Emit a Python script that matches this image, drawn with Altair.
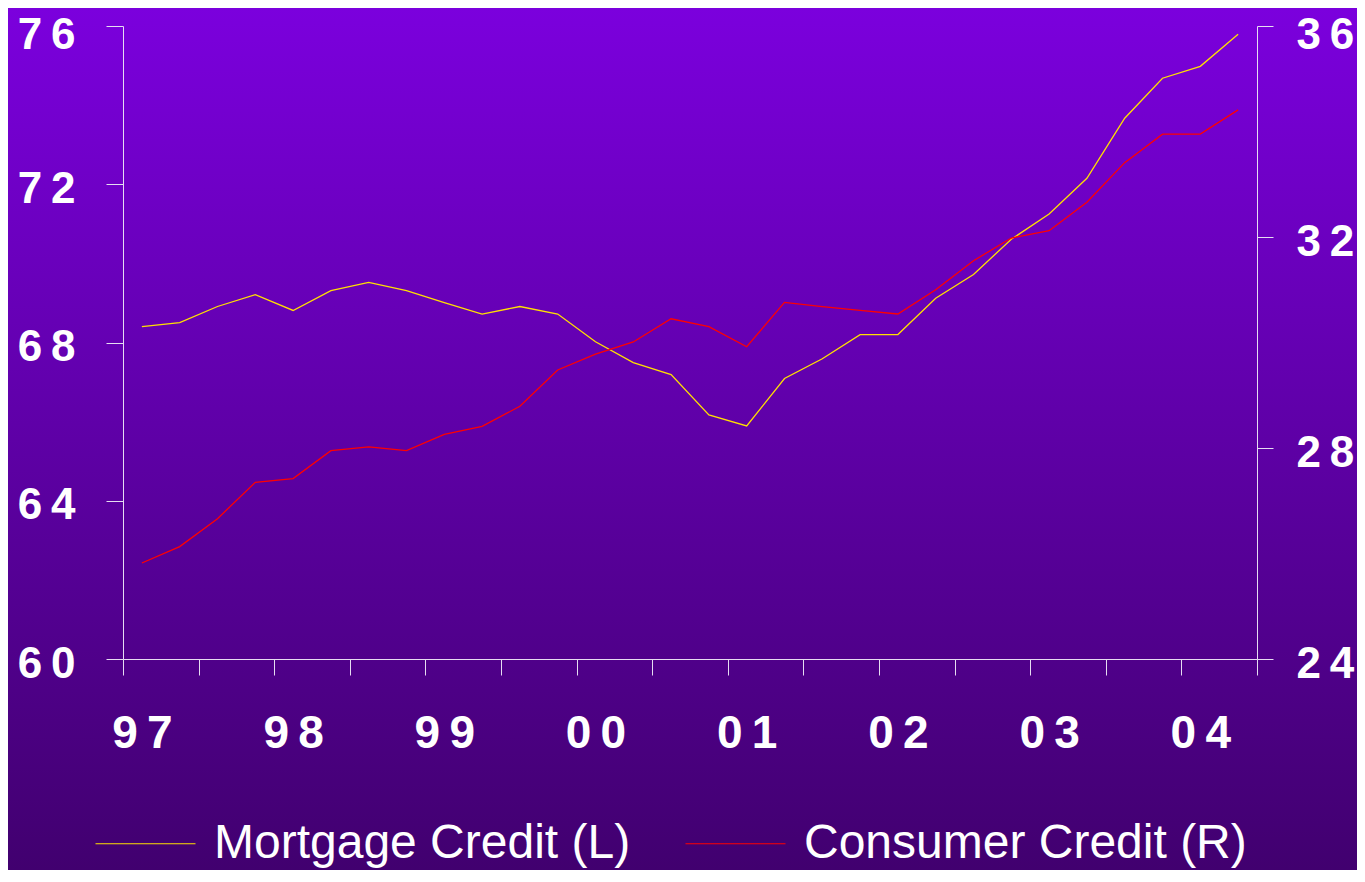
import altair as alt
import pandas as pd

# ---- data (quarterly, 1997Q1 .. 2004Q2) ----
quarters = [f"{y}Q{q}" for y in ["97", "98", "99", "00", "01", "02", "03", "04"] for q in range(1, 5)][:30]
mortgage = [68.40, 68.50, 68.91, 69.21, 68.81, 69.31, 69.52, 69.31, 69.01, 68.72,
            68.91, 68.72, 68.02, 67.49, 67.19, 66.17, 65.89, 67.09, 67.59, 68.20,
            68.20, 69.12, 69.72, 70.61, 71.25, 72.15, 73.67, 74.68, 74.98, 75.79]
consumer = [25.82, 26.13, 26.66, 27.35, 27.42, 27.95, 28.02, 27.95, 28.26, 28.41,
            28.79, 29.48, 29.78, 30.01, 30.45, 30.30, 29.92, 30.76, 30.68, 30.61,
            30.54, 31.00, 31.55, 31.98, 32.12, 32.66, 33.41, 33.95, 33.95, 34.41]
series_names = ["Mortgage Credit (L)", "Consumer Credit (R)"]
year_labels = ["97", "98", "99", "00", "01", "02", "03", "04"]
left_ticks = [60, 64, 68, 72, 76]
right_ticks = [24, 28, 32, 36]

rows = []
for i, q in enumerate(quarters):
    rows.append({"quarter": q, "pos": i + 0.5, "series": series_names[0], "value": mortgage[i]})
    rows.append({"quarter": q, "pos": i + 0.5, "series": series_names[1], "value": consumer[i]})
df = pd.DataFrame(rows)

# ---- styling ----
W, H = 1134, 633
PAD = {"left": 115, "top": 18, "right": 100, "bottom": 211}
FONT = "Liberation Sans"
AXIS_COL = "#E6DDF2"
THIN = "\u2009"
YELLOW = "#FFE000"
RED = "#FF0000"

n = len(quarters)
tick_vals = list(range(0, n + 1, 2))
label_vals = [4 * k + 0.5 for k in range(len(year_labels))]
axis_vals = sorted(set(tick_vals) | set(label_vals))
lab_expr = " : ".join(
    f"datum.value == {v} ? '{lab[0]}{THIN}{lab[1]}'" for v, lab in zip(label_vals, year_labels)
) + " : ''"

x_enc = alt.X(
    "pos:Q",
    scale=alt.Scale(domain=[0, n], nice=False, zero=False),
    axis=alt.Axis(
        values=axis_vals, labelExpr=lab_expr, title=None, grid=False,
        tickSize=16, tickColor=AXIS_COL, domainColor=AXIS_COL, tickWidth=1, domainWidth=1,
        tickOpacity={"condition": {"test": "datum.value % 2 != 0", "value": 0}, "value": 1},
        labelFont=FONT, labelFontSize=46, labelFontWeight="bold", labelColor="white",
        labelPadding=36, labelOverlap=False, labelFlush=False, labelBound=False, zindex=1,
    ),
)

digit_expr = f"substring(datum.label,0,1) + '{THIN}' + substring(datum.label,1)"

legend = alt.Legend(
    title=None, orient="none", legendX=-28, legendY=767, direction="horizontal",
    symbolType="stroke", symbolSize=10000, symbolStrokeWidth=1,
    labelFont=FONT, labelFontSize=48, labelColor="white", labelOffset=18,
    columnPadding=52, padding=0, labelLimit=2000, zindex=1,
)
color_enc = alt.Color("series:N", scale=alt.Scale(domain=series_names, range=[YELLOW, RED]), legend=legend)

bg = alt.Chart(pd.DataFrame({"a": [0]})).mark_rect(
    fill=alt.LinearGradient(
        gradient="linear",
        stops=[alt.GradientStop(color="#7B00DD", offset=0), alt.GradientStop(color="#41006F", offset=1)],
        x1=0, x2=0, y1=0, y2=1,
    )
).encode(
    x=alt.value(-PAD["left"]), x2=alt.value(W + PAD["right"]),
    y=alt.value(-PAD["top"]), y2=alt.value(H + PAD["bottom"]),
)

y_axis_common = dict(
    title=None, grid=False, tickColor=AXIS_COL, domainColor=AXIS_COL, labelFont=FONT,
    labelFontSize=44, labelFontWeight="bold", labelColor="white",
    labelExpr=digit_expr, labelBound=False, labelFlush=False, zindex=1,
)

left = alt.Chart(df).transform_filter(alt.datum.series == series_names[0]).mark_line(strokeWidth=1.3).encode(
    x=x_enc,
    y=alt.Y("value:Q", scale=alt.Scale(domain=[60, 76], nice=False, zero=False),
            axis=alt.Axis(orient="left", values=left_ticks, tickSize=17, labelPadding=31,
                          labelOffset={"condition": {"test": f"datum.value == {left_ticks[-1]}", "value": 9}, "value": 5},
                          **y_axis_common)),
    color=color_enc,
    order="pos:Q",
)

right = alt.Chart(df).transform_filter(alt.datum.series == series_names[1]).mark_line(strokeWidth=1.3).encode(
    x=x_enc,
    y=alt.Y("value:Q", scale=alt.Scale(domain=[24, 36], nice=False, zero=False),
            axis=alt.Axis(orient="right", values=right_ticks, tickSize=16, labelPadding=23,
                          labelOffset={"condition": {"test": f"datum.value == {right_ticks[-1]}", "value": 9}, "value": 5},
                          **y_axis_common)),
    color=color_enc,
    order="pos:Q",
)

chart = alt.layer(bg, left, right).resolve_scale(y="independent").properties(
    width=W, height=H, padding=PAD, autosize=alt.AutoSizeParams(type="none"),
    background="#41006F",
).configure_view(stroke=None)

chart.save("out.html", embed_options={"renderer": "svg", "actions": False})
